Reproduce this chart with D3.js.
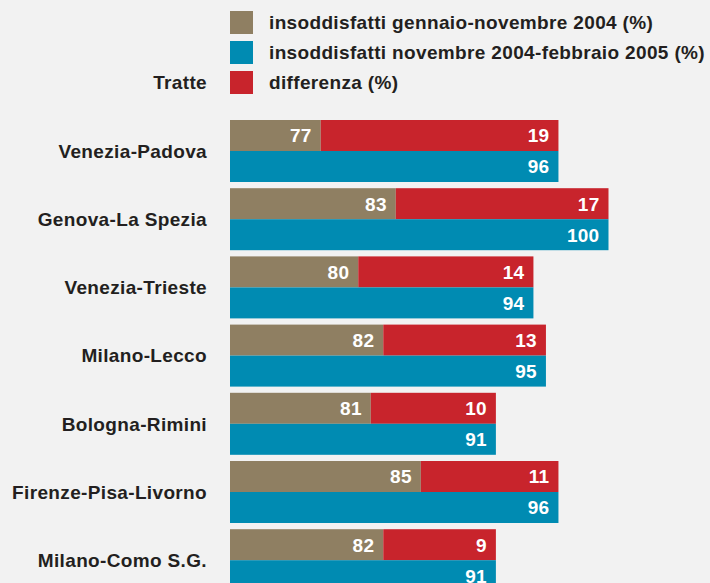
<!DOCTYPE html>
<html><head><meta charset="utf-8">
<script src="https://cdn.jsdelivr.net/npm/d3@7"></script>
<style>
html,body{margin:0;padding:0;background:#f2f2f2;}
svg{display:block;font-family:"Liberation Sans",Arial,sans-serif;font-weight:bold;}
</style></head>
<body>
<svg id="chart" width="710" height="583"></svg>
<script>
const categories = ["Venezia-Padova","Genova-La Spezia","Venezia-Trieste","Milano-Lecco","Bologna-Rimini","Firenze-Pisa-Livorno","Milano-Como S.G."];
const before = [77, 83, 80, 82, 81, 85, 82];
const after = [96, 100, 94, 95, 91, 96, 91];
const diff = [19, 17, 14, 13, 10, 11, 9];
const legendLabels = ["insoddisfatti gennaio-novembre 2004 (%)","insoddisfatti novembre 2004-febbraio 2005 (%)","differenza (%)"];
const colors = {before:"#8f7f62", after:"#008bb2", diff:"#c8242c"};
const axisTitle = "Tratte";

const svg = d3.select("#chart");
const W = 710, H = 583;
svg.append("rect").attr("width",W).attr("height",H).attr("fill","#f2f2f2");

const x0 = 230;
const x = d3.scaleLinear().domain([69.75, 100]).range([x0, 608.5]);
const y = d3.scaleBand().domain(categories).range([120, 120 + 7*68.2]).padding(0);
const barH = 31;
const txt = "#231f20";
const fs = 19, ls = 0.35;

// legend
const lg = svg.append("g");
const legendColors = [colors.before, colors.after, colors.diff];
legendLabels.forEach((l,i)=>{
  lg.append("rect").attr("x",230).attr("y",11+i*30).attr("width",23).attr("height",23).attr("fill",legendColors[i]);
  lg.append("text").attr("x",269).attr("y",22.5+i*30).attr("dy","0.36em")
    .attr("font-size",fs).attr("letter-spacing",ls).attr("fill",txt).text(l);
});
svg.append("text").attr("x",207).attr("y",82.5).attr("dy","0.36em").attr("text-anchor","end")
  .attr("font-size",fs).attr("letter-spacing",ls).attr("fill",txt).text(axisTitle);

const data = categories.map((c,i)=>({c, b:before[i], a:after[i], d:diff[i]}));
const g = svg.append("g");
const rows = g.selectAll("g.row").data(data).join("g").attr("class","row");

rows.append("text").attr("x",207).attr("y",d=>y(d.c)+barH).attr("dy","0.36em")
  .attr("text-anchor","end").attr("font-size",fs).attr("letter-spacing",ls).attr("fill",txt).text(d=>d.c);

rows.append("rect").attr("x",x0).attr("y",d=>y(d.c)).attr("width",d=>x(d.b)-x0).attr("height",barH).attr("fill",colors.before);
rows.append("rect").attr("x",d=>x(d.b)).attr("y",d=>y(d.c)).attr("width",d=>x(d.b+d.d)-x(d.b)).attr("height",barH).attr("fill",colors.diff);
rows.append("rect").attr("x",x0).attr("y",d=>y(d.c)+barH).attr("width",d=>x(d.a)-x0).attr("height",barH).attr("fill",colors.after);

const lab = (sel, xf, yf, tf) => sel.append("text").attr("x",xf).attr("y",yf).attr("dy","0.36em")
  .attr("text-anchor","end").attr("font-size",19).attr("letter-spacing",0.3).attr("fill","#fff").text(tf);
lab(rows, d=>x(d.b)-9, d=>y(d.c)+barH/2, d=>d.b);
lab(rows, d=>x(d.b+d.d)-9, d=>y(d.c)+barH/2, d=>d.d);
lab(rows, d=>x(d.a)-9, d=>y(d.c)+barH*1.5, d=>d.a);
</script>
</body></html>
